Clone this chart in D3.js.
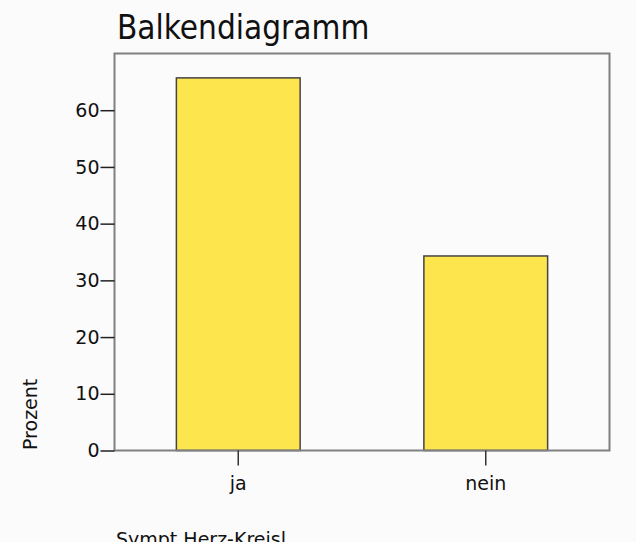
<!DOCTYPE html>
<html><head><meta charset="utf-8">
<script src="https://cdn.jsdelivr.net/npm/d3@7"></script>
<style>
html,body{margin:0;padding:0;background:#fbfbfb;}
svg{display:block;}
text{font-family:"DejaVu Sans",sans-serif;fill:#111;}
</style></head>
<body>
<svg id="chart" width="636" height="542"></svg>
<script>
const categories = ["ja", "nein"];
const values = [65.7, 34.3];
const yTicks = [0, 10, 20, 30, 40, 50, 60];
const title = "Balkendiagramm";
const yLabel = "Prozent";
const xLabel = "Sympt.Herz-Kreisl.";

(function () {
const svg = d3.select("#chart");
const pl = 114.5, pr = 609.5, pt = 53.5, pb = 450.5;
const axisFont = '"DejaVu Sans",sans-serif';

const x = d3.scaleBand().domain(categories).range([pl, pr])
  .paddingInner(0.5).paddingOuter(0.25);
const y = d3.scaleLinear().domain([0, 70]).range([pb, pt]);

svg.append("rect").attr("width", 636).attr("height", 542).attr("fill", "#fbfbfb");

// bars
svg.append("g").selectAll("rect").data(categories).join("rect")
  .attr("x", d => x(d))
  .attr("y", (d, i) => y(values[i]))
  .attr("width", x.bandwidth())
  .attr("height", (d, i) => y(0) - y(values[i]))
  .attr("fill", "#fde64d")
  .attr("stroke", "#444")
  .attr("stroke-width", 1.5);

// frame
svg.append("rect")
  .attr("x", pl).attr("y", pt)
  .attr("width", pr - pl).attr("height", pb - pt)
  .attr("fill", "none").attr("stroke", "#808080").attr("stroke-width", 2);

// y axis
const yAxis = d3.axisLeft(y).tickValues(yTicks).tickSize(14).tickPadding(1);
const gy = svg.append("g").attr("transform", `translate(${pl},0)`).call(yAxis);
gy.select(".domain").remove();
gy.selectAll(".tick line").attr("stroke", "#222").attr("stroke-width", 1.5);
gy.selectAll(".tick text").attr("font-size", 19).attr("fill", "#111")
  .style("font-family", axisFont);

// x axis
const xAxis = d3.axisBottom(x).tickSize(15).tickPadding(11);
const gx = svg.append("g").attr("transform", `translate(0,${pb})`).call(xAxis);
gx.select(".domain").remove();
gx.selectAll(".tick line").attr("stroke", "#333").attr("stroke-width", 1.5);
gx.selectAll(".tick text").attr("font-size", 19).attr("fill", "#111")
  .style("font-family", axisFont);

// title
svg.append("text").attr("x", 117).attr("y", 39)
  .style("font-family", '"DejaVu Sans Condensed","DejaVu Sans",sans-serif')
  .attr("font-size", 33).text(title);

// y label
svg.append("text")
  .attr("transform", "translate(37,450) rotate(-90)")
  .attr("text-anchor", "start")
  .attr("font-size", 19).text(yLabel);

// x label (cut off at bottom)
svg.append("text").attr("x", 116).attr("y", 546)
  .attr("font-size", 19).text(xLabel);
})();
</script>
</body></html>
